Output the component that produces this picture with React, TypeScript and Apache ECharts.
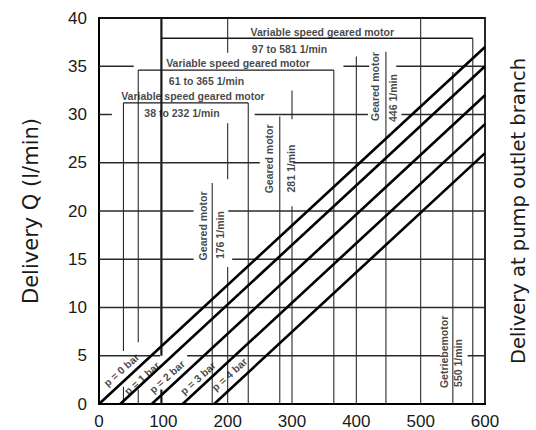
import React, { useEffect, useRef } from "react";
import * as echarts from "echarts";

// ---- Data ----
const X_MIN = 0;
const X_MAX = 600;
const X_STEP = 100;
const Y_MIN = 0;
const Y_MAX = 40;
const Y_STEP = 5;

const pressureLabels = ["p = 0 bar", "p = 1 bar", "p = 2 bar", "p = 3 bar", "p = 4 bar"];
// speed (1/min) where each curve starts at Q = 0
const startRpm = [0, 33, 82, 130, 179];
// delivery at 600 1/min
const endDelivery = [37, 35, 32, 29, 26];
// label centres [rpm, Q]
const pressureLabelPos: [number, number][] = [
  [35, 3.5],
  [67, 2.65],
  [106, 2.8],
  [154, 2.65],
  [203, 3.05],
];

// vertical grid segments [rpm, Qfrom, Qto]
const vGrid: [number, number, number][] = [
  [38, 5.5, 31.2], [38, 0, 1.8],
  [61, 6.4, 34.6], [61, 0, 1.5],
  [176, 0, 22.9],
  [200, 36.4, 40], [200, 23.3, 29.1], [200, 0, 14.2],
  [232, 0, 31.2],
  [281, 0, 29.8],
  [300, 29.5, 32.5], [300, 0, 20.5],
  [365, 0, 34.6],
  [400, 0, 36],
  [446, 0, 36.5],
  [500, 0, 40],
  [550, 0, 34.4],
  [581, 0, 37.9],
];
const vGridThick: [number, number, number][] = [
  [97, 5, 40], [97, 0, 1.5],
];
// horizontal grid segments [Q, rpmFrom, rpmTo]
const hGrid: [number, number, number][] = [
  [35, 0, 54], [35, 380, 420], [35, 462, 600],
  [30, 0, 20], [30, 242, 418], [30, 470, 600],
  [25, 0, 250], [25, 302, 600],
  [20, 0, 147], [20, 201, 600],
  [15, 0, 147], [15, 207, 600],
  [10, 0, 600],
  [5, 0, 95], [5, 137, 530], [5, 573, 600],
];
// speed-range dimension lines [Q, rpmFrom, rpmTo]
const dimLines: [number, number, number][] = [
  [37.9, 97, 581],
  [34.6, 61, 365],
  [31.2, 38, 232],
];
// horizontal annotations [text, rpm, Q]
const hNotes: [string, number, number][] = [
  ["Variable speed geared motor", 347, 38.55],
  ["97 to 581 1/min", 296, 36.8],
  ["Variable speed geared motor", 216, 35.35],
  ["61 to 365 1/min", 167, 33.5],
  ["Variable speed geared motor", 146, 31.9],
  ["38 to 232 1/min", 129, 30.2],
];
// vertical annotations [text, rpm, Q]
const vNotes: [string, number, number][] = [
  ["Geared motor", 162, 18.45],
  ["176 1/min", 188, 17.5],
  ["Geared motor", 265, 25.4],
  ["281 1/min", 298, 24.4],
  ["Geared motor", 429, 32.9],
  ["446 1/min", 457, 31.7],
  ["Getriebemotor", 537, 5.4],
  ["550 1/min", 558, 4.25],
];

const yAxisName = "Delivery Q (l/min)";
const rightName = "Delivery at pump outlet branch";

const NOTE_FONT = "'Liberation Sans', Arial, sans-serif";
const INK = "#141414";

function segSeries(rows: number[][], color: string, width: number, z: number) {
  return {
    type: "custom",
    silent: true,
    clip: false,
    z,
    encode: { x: [0, 2], y: [1, 3] },
    data: rows,
    renderItem: (params: any, api: any) => {
      const p1 = api.coord([api.value(0), api.value(1)]);
      const p2 = api.coord([api.value(2), api.value(3)]);
      return {
        type: "line",
        shape: { x1: p1[0], y1: p1[1], x2: p2[0], y2: p2[1] },
        style: { stroke: color, lineWidth: width },
      };
    },
  };
}

// horizontal segments drawn as thin filled bars
function rectSeries(rows: number[][], color: string, thickness: number, z: number) {
  return {
    type: "custom",
    silent: true,
    clip: false,
    z,
    encode: { x: [0, 2], y: [1, 3] },
    data: rows,
    renderItem: (params: any, api: any) => {
      const p1 = api.coord([api.value(0), api.value(1)]);
      const p2 = api.coord([api.value(2), api.value(3)]);
      return {
        type: "rect",
        shape: {
          x: Math.min(p1[0], p2[0]),
          y: p1[1] - thickness / 2,
          width: Math.abs(p2[0] - p1[0]),
          height: thickness,
        },
        style: { fill: color },
      };
    },
  };
}

function buildOption() {
  const segV = (arr: [number, number, number][]) => arr.map(([n, a, b]) => [n, a, n, b]);
  const segH = (arr: [number, number, number][]) => arr.map(([q, a, b]) => [a, q, b, q]);

  const series: any[] = [
    segSeries(segV(vGrid), "#2a2a2a", 1.1, 10),
    segSeries(segV(vGridThick), "#1a1a1a", 2.2, 10),
    rectSeries(segH(hGrid), "#2a2a2a", 1.5, 10),
    rectSeries(segH(dimLines), "#1a1a1a", 1.3, 10),
  ];

  pressureLabels.forEach((name, i) => {
    series.push({
      name,
      type: "line",
      data: [
        [startRpm[i], 0],
        [X_MAX, endDelivery[i]],
      ],
      showSymbol: false,
      symbol: "none",
      silent: true,
      z: 11,
      lineStyle: { color: "#000", width: 2.6 },
    });
  });

  const labelItem = (
    text: string,
    n: number,
    q: number,
    rotate: number,
    size: number,
    weight: string
  ) => ({
    value: [n, q],
    label: {
      show: true,
      position: "inside",
      formatter: text,
      rotate,
      fontSize: size,
      fontWeight: weight,
      fontFamily: NOTE_FONT,
      color: INK,
      align: "center",
      verticalAlign: "middle",
    },
  });

  series.push({
    type: "scatter",
    symbolSize: 0,
    silent: true,
    z: 12,
    data: [
      ...hNotes.map(([t, n, q]) => labelItem(t, n, q, 0, 10.5, "bold")),
      ...vNotes.map(([t, n, q]) => labelItem(t, n, q, 90, 10.5, "bold")),
      ...pressureLabels.map((t, i) =>
        labelItem(t, pressureLabelPos[i][0], pressureLabelPos[i][1], 42, 10.5, "bold")
      ),
    ],
  });

  return {
    animation: false,
    backgroundColor: "#fff",
    grid: {
      left: 99,
      right: 38,
      top: 18,
      bottom: 25,
      show: true,
      borderColor: "#111",
      borderWidth: 1.8,
      backgroundColor: "transparent",
    },
    xAxis: {
      type: "value",
      min: X_MIN,
      max: X_MAX,
      interval: X_STEP,
      axisLine: { show: true, lineStyle: { color: "#000", width: 2 } },
      axisTick: { show: false },
      splitLine: { show: false },
      splitArea: { show: false },
      axisLabel: {
        fontSize: 17,
        color: "#1a1a1a",
        fontFamily: "'Liberation Sans', Arial, sans-serif",
        margin: 9,
      },
    },
    yAxis: [
      {
        type: "value",
        min: Y_MIN,
        max: Y_MAX,
        interval: Y_STEP,
        axisLine: { show: true, lineStyle: { color: "#000", width: 2 } },
        axisTick: { show: false },
        splitLine: { show: false },
        splitArea: { show: false },
        axisLabel: {
          fontSize: 17,
          color: "#1a1a1a",
          fontFamily: "'Liberation Sans', Arial, sans-serif",
          margin: 12,
        },
        name: yAxisName,
        nameLocation: "middle",
        nameGap: 58,
        nameRotate: 90,
        nameTextStyle: {
          fontSize: 21,
          color: "#1a1a1a",
          fontFamily: "'DejaVu Sans', sans-serif",
        },
      },
      {
        type: "value",
        position: "right",
        min: Y_MIN,
        max: Y_MAX,
        interval: Y_STEP,
        axisLine: { show: false },
        axisTick: { show: false },
        axisLabel: { show: false },
        splitLine: { show: false },
        splitArea: { show: false },
        name: rightName,
        nameLocation: "middle",
        nameGap: 23,
        nameRotate: 90,
        nameTextStyle: {
          fontSize: 19.5,
          color: "#1a1a1a",
          fontFamily: "'DejaVu Sans', sans-serif",
        },
      },
    ],
    series,
  };
}

export default function App() {
  const ref = useRef<HTMLDivElement>(null);
  useEffect(() => {
    if (!ref.current) return;
    const chart = echarts.init(ref.current, null, { renderer: "svg" });
    chart.setOption(buildOption() as any);
    return () => chart.dispose();
  }, []);
  return (
    <div
      ref={ref}
      style={{
        position: "fixed",
        left: 0,
        top: 0,
        width: 536,
        height: 430,
        background: "#fff",
      }}
    />
  );
}
